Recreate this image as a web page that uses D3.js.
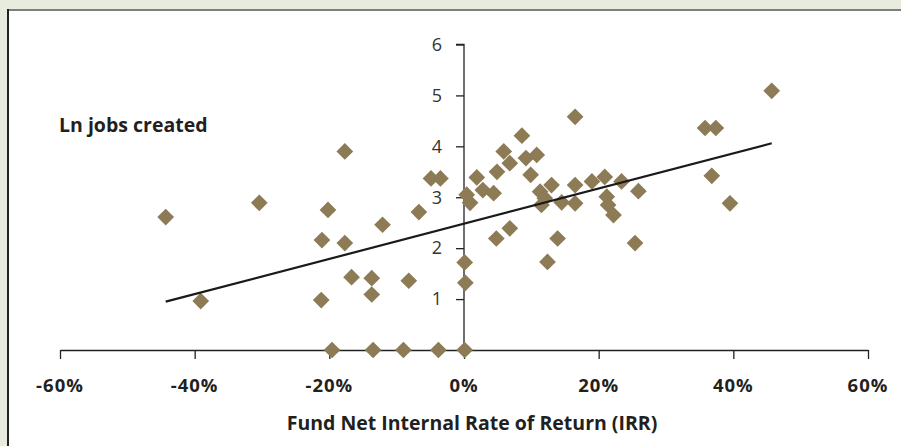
<!DOCTYPE html>
<html>
<head>
<meta charset="utf-8">
<script src="https://cdn.jsdelivr.net/npm/d3@7/dist/d3.min.js"></script>
<style>
  html, body { margin: 0; padding: 0; background: #e7ecdf; }
  svg { display: block; }
</style>
</head>
<body>
<svg id="chart" width="901" height="446"></svg>
<script>
// Fund IRR (fraction) vs. log of jobs created, one point per fund
const irr = [
  -0.443, -0.391, -0.304, -0.212, -0.211, -0.202, -0.177, -0.177, -0.167, -0.137,
  -0.137, -0.121, -0.082, -0.067, -0.049, -0.035, -0.196, -0.135, -0.090, -0.038,
   0.001,  0.001,  0.002,  0.004,  0.009,  0.019,  0.028,  0.044,  0.049,  0.059,
   0.068,  0.086,  0.092,  0.108,  0.099,  0.113,  0.120,  0.115,  0.130,  0.145,
   0.165,  0.165,  0.165,  0.190,  0.209,  0.212,  0.214,  0.222,  0.234,  0.259,
   0.254,  0.048,  0.068,  0.139,  0.124,  0.457,  0.358,  0.374,  0.368,  0.395
];
const lnJobs = [
   2.61, 0.96, 2.89, 0.98, 2.16, 2.75, 3.90, 2.10, 1.43, 1.41,
   1.09, 2.46, 1.36, 2.71, 3.37, 3.37, 0.00, 0.00, 0.00, 0.00,
   0.00, 1.72, 1.32, 3.05, 2.89, 3.39, 3.14, 3.08, 3.50, 3.90,
   3.67, 4.21, 3.77, 3.83, 3.44, 3.11, 2.98, 2.85, 3.24, 2.90,
   4.58, 3.24, 2.88, 3.31, 3.40, 3.01, 2.85, 2.65, 3.31, 3.12,
   2.10, 2.19, 2.39, 2.19, 1.73, 5.09, 4.36, 4.36, 3.42, 2.88
];

// Linear trend line coefficients (y = intercept + slope * x)
const trendSlope = 3.456;
const trendIntercept = 2.48;

const xTicks = [-0.6, -0.4, -0.2, 0, 0.2, 0.4, 0.6];
const yTicks = [1, 2, 3, 4, 5, 6];

const yLabel = "Ln jobs created";
const xLabel = "Fund Net Internal Rate of Return (IRR)";

const svg = d3.select("#chart");
const W = 901, H = 446;
const font = "'Open Sans', 'Noto Sans', sans-serif";

// Panel: white card with a dark left rule and grey top rule
svg.append("rect").attr("x", 9).attr("y", 11).attr("width", W - 9).attr("height", H - 11).attr("fill", "#ffffff");
svg.append("rect").attr("x", 9).attr("y", 9).attr("width", W - 9).attr("height", 2).attr("fill", "#7d7f7b");
svg.append("rect").attr("x", 7).attr("y", 9).attr("width", 2).attr("height", H - 9).attr("fill", "#222222");

const x = d3.scaleLinear().domain([-0.6, 0.6]).range([60, 868]);
const y = d3.scaleLinear().domain([0, 6]).range([350, 44.5]);

const axisColor = "#222";

// X axis along y = 0, ticks pointing down
const xAxis = svg.append("g")
  .attr("transform", `translate(0,${y(0)})`)
  .call(d3.axisBottom(x).tickValues(xTicks).tickSize(9).tickSizeOuter(0).tickFormat(d => ""));
xAxis.select(".domain").attr("stroke", axisColor).attr("stroke-width", 1.3);
xAxis.selectAll(".tick line").attr("stroke", axisColor).attr("stroke-width", 1.3);

// X tick labels, bold
svg.append("g").selectAll("text").data(xTicks).join("text")
  .attr("x", d => x(d))
  .attr("y", 392)
  .attr("text-anchor", "middle")
  .attr("font-family", font)
  .attr("font-weight", 700)
  .attr("font-size", 18.5)
  .attr("letter-spacing", 1)
  .attr("fill", "#231f20")
  .text(d => d3.format(".0%")(d).replace("−", "-"));

// Y axis at x = 0, ticks pointing left
const yAxis = svg.append("g")
  .attr("transform", `translate(${x(0)},0)`)
  .call(d3.axisLeft(y).tickValues(yTicks).tickSize(8).tickSizeOuter(0).tickPadding(14).tickFormat(d3.format("d")));
yAxis.select(".domain").attr("stroke", axisColor).attr("stroke-width", 1.3);
yAxis.selectAll(".tick line").attr("stroke", axisColor).attr("stroke-width", 1.3);
yAxis.selectAll(".tick text")
  .attr("font-family", font)
  .attr("font-size", 18)
  .attr("fill", "#333");
yAxis.select(".domain").attr("d", `M-8,${y(6)}H0V${y(0)}`);

// Diamond markers
const diamond = d3.symbol().type(d3.symbolSquare).size(140);
svg.append("g").selectAll("path").data(irr.map((v, i) => [v, lnJobs[i]])).join("path")
  .attr("d", diamond)
  .attr("transform", d => `translate(${x(d[0])},${y(d[1])}) rotate(45)`)
  .attr("fill", "#8d7b56");

// Trend line across the range of the data
const [xMin, xMax] = d3.extent(irr);
svg.append("line")
  .attr("x1", x(xMin)).attr("y1", y(trendIntercept + trendSlope * xMin))
  .attr("x2", x(xMax)).attr("y2", y(trendIntercept + trendSlope * xMax))
  .attr("stroke", "#1a1a1a").attr("stroke-width", 2.2);

// Titles
svg.append("text")
  .attr("x", 59).attr("y", 132)
  .attr("font-family", font)
  .attr("font-weight", 700).attr("font-size", 19.5).attr("fill", "#231f20")
  .text(yLabel);

svg.append("text")
  .attr("x", 472).attr("y", 430)
  .attr("text-anchor", "middle")
  .attr("font-family", font)
  .attr("font-weight", 700).attr("font-size", 19.5).attr("fill", "#231f20")
  .text(xLabel);
</script>
</body>
</html>
